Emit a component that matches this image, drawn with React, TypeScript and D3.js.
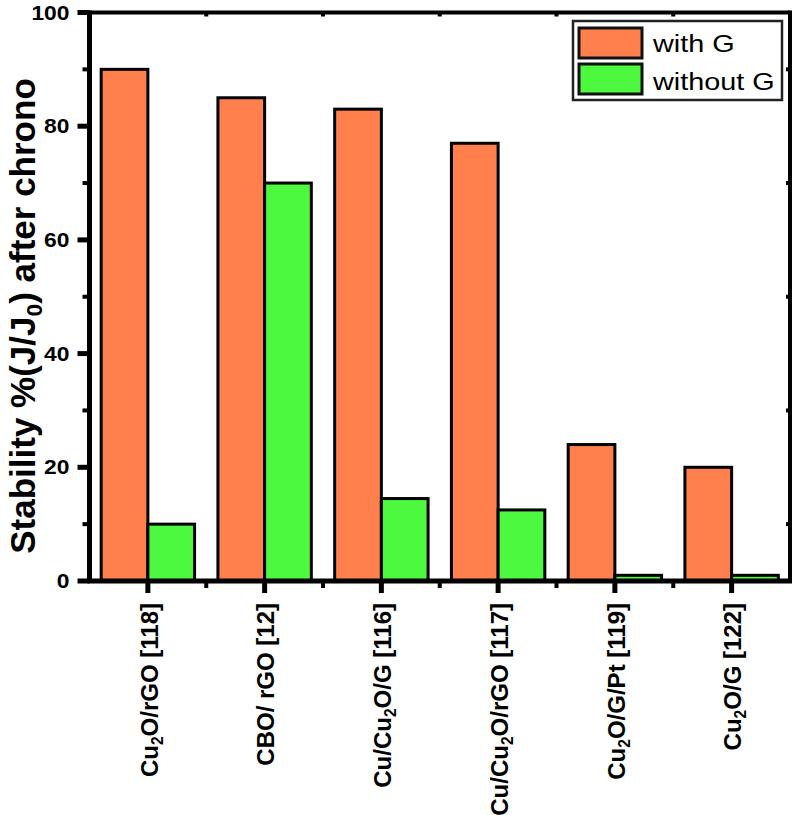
import React from 'react';
import * as d3 from 'd3';

const categories = [
  'Cu_{2}O/rGO [118]',
  'CBO/ rGO [12]',
  'Cu/Cu_{2}O/G [116]',
  'Cu/Cu_{2}O/rGO [117]',
  'Cu_{2}O/G/Pt [119]',
  'Cu_{2}O/G [122]',
];
const withG = [90, 85, 83, 77, 24, 20];
const withoutG = [10, 70, 14.5, 12.5, 1, 1];
const seriesNames = ['with G', 'without G'];
const seriesColors = ['#FF7F4D', '#4CF93E'];
const yTicks = [0, 20, 40, 60, 80, 100];
const yMinorTicks = [10, 30, 50, 70, 90];

const W = 798;
const H = 815;
const margin = { left: 89.5, right: 8, top: 12.5, bottom: 234 };
const FONT = '"Liberation Sans", Arial, sans-serif';

// split "Cu_{2}O" into normal/subscript pieces, each with its own dy
function renderRich(label: string, subDy: number) {
  const parts: { t: string; sub: boolean }[] = [];
  const re = /_\{([^}]*)\}/g;
  let last = 0;
  let m: RegExpExecArray | null;
  while ((m = re.exec(label)) !== null) {
    if (m.index > last) parts.push({ t: label.slice(last, m.index), sub: false });
    parts.push({ t: m[1], sub: true });
    last = m.index + m[0].length;
  }
  if (last < label.length) parts.push({ t: label.slice(last), sub: false });
  let prevSub = false;
  return parts.map((p, i) => {
    const dy = p.sub ? subDy : prevSub ? -subDy : 0;
    prevSub = p.sub;
    return (
      <tspan key={i} dy={dy || undefined} fontSize={p.sub ? '65%' : undefined}>
        {p.t}
      </tspan>
    );
  });
}

export default function App() {
  const x0 = margin.left;
  const x1 = W - margin.right;
  const yBottom = H - margin.bottom;
  const yTop = margin.top;

  const x = d3.scaleBand<string>().domain(categories).range([x0, x1]).paddingInner(0.2).paddingOuter(0.1);
  const xs = d3.scaleBand<number>().domain([0, 1]).range([0, x.bandwidth()]);
  const y = d3.scaleLinear().domain([0, 100]).range([yBottom, yTop]);

  const series = [withG, withoutG];
  const step = x.step();
  const boundaries = categories.slice(1).map((_, i) => x0 + step * (i + 1));

  return (
    <svg width={W} height={H} style={{ position: 'absolute', left: 0, top: 0, background: '#fff' }} fontFamily={FONT}>
      <rect x={0} y={0} width={W} height={H} fill="#fff" />

      {/* bars */}
      {categories.map((c, i) => (
        <g key={c}>
          {series.map((vals, s) => (
            <rect
              key={s}
              x={(x(c) ?? 0) + (xs(s) ?? 0)}
              y={y(vals[i])}
              width={xs.bandwidth()}
              height={yBottom - y(vals[i])}
              fill={seriesColors[s]}
              stroke="#000"
              strokeWidth={3}
            />
          ))}
        </g>
      ))}

      {/* frame */}
      <line x1={x0} x2={x1} y1={yTop} y2={yTop} stroke="#000" strokeWidth={4} />
      <line x1={x1} x2={x1} y1={yTop - 2} y2={yBottom + 2} stroke="#000" strokeWidth={4} />
      <line x1={x0 - 2} x2={x1 + 2} y1={yBottom} y2={yBottom} stroke="#000" strokeWidth={5} />
      <line x1={x0} x2={x0} y1={yTop - 2} y2={yBottom + 2} stroke="#000" strokeWidth={5} />

      {/* y ticks */}
      {yTicks.map((t) => (
        <g key={t}>
          <line x1={x0 - 12} x2={x0} y1={y(t)} y2={y(t)} stroke="#000" strokeWidth={5} />
          <text
            transform={`translate(${x0 - 20},${y(t)}) scale(1.17,1)`}
            dy="0.36em"
            textAnchor="end"
            fontSize={19.5}
            fontWeight="bold"
          >
            {t}
          </text>
        </g>
      ))}
      {yMinorTicks.map((t) => (
        <g key={t}>
          <line x1={x0 - 7} x2={x0} y1={y(t)} y2={y(t)} stroke="#000" strokeWidth={4} />
          <line x1={x1 - 4} x2={x1} y1={y(t)} y2={y(t)} stroke="#000" strokeWidth={4} />
        </g>
      ))}

      {/* x ticks */}
      {categories.map((c) => {
        const cx = (x(c) ?? 0) + x.bandwidth() / 2;
        return (
          <g key={c}>
            <line x1={cx} x2={cx} y1={yBottom} y2={yBottom + 12} stroke="#000" strokeWidth={5} />
            <text
              transform={`translate(${cx + 1},${yBottom + 22}) rotate(-90)`}
              textAnchor="end"
              dy="0.36em"
              fontSize={24}
              fontWeight="bold"
            >
              {renderRich(c, 5)}
            </text>
          </g>
        );
      })}
      {boundaries.map((bx, i) => (
        <g key={i}>
          <line x1={bx} x2={bx} y1={yBottom} y2={yBottom + 7} stroke="#000" strokeWidth={4} />
          <line x1={bx} x2={bx} y1={yTop} y2={yTop + 4} stroke="#000" strokeWidth={4} />
        </g>
      ))}

      {/* y axis title */}
      <text
        transform={`translate(35,316) rotate(-90)`}
        textAnchor="middle"
        fontSize={35}
        fontWeight="bold"
      >
        <tspan>Stability %(J/J</tspan>
        <tspan dy={7} fontSize="65%">0</tspan>
        <tspan dy={-7}>) after chrono</tspan>
      </text>

      {/* legend */}
      <g>
        <rect x={573} y={21} width={209} height={79} fill="#fff" stroke="#222" strokeWidth={2.5} />
        {seriesNames.map((n, i) => (
          <g key={n}>
            <rect x={579} y={28 + i * 36} width={63} height={30} fill={seriesColors[i]} stroke="#111" strokeWidth={3} />
            <text transform={`translate(653,${52 + i * 38}) scale(1.2,1)`} fontSize={24}>
              {n}
            </text>
          </g>
        ))}
      </g>
    </svg>
  );
}
